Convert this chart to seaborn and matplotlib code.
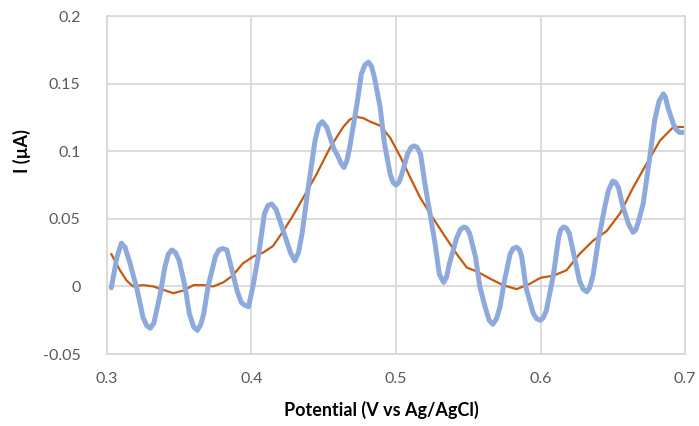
import matplotlib
matplotlib.use("Agg")
import matplotlib.pyplot as plt
import seaborn as sns

# Values (potential in V, current in uA)
blue_x = [0.303, 0.307, 0.310, 0.3125, 0.316, 0.321, 0.325, 0.3275, 0.330,
          0.3325, 0.337, 0.340, 0.3425, 0.345, 0.3475, 0.350, 0.354, 0.357,
          0.360, 0.3625, 0.365, 0.367, 0.370, 0.375, 0.3775, 0.380, 0.383,
          0.386, 0.390, 0.393, 0.3955, 0.398, 0.401, 0.405, 0.409, 0.4115,
          0.414, 0.417, 0.422, 0.427, 0.430, 0.4325, 0.435, 0.439, 0.444,
          0.4465, 0.449, 0.452, 0.457, 0.460, 0.462, 0.464, 0.466, 0.468,
          0.473, 0.476, 0.4785, 0.481, 0.483, 0.485, 0.489, 0.492, 0.496,
          0.498, 0.500, 0.502, 0.504, 0.508, 0.5105, 0.5125, 0.5145, 0.517,
          0.520, 0.5235, 0.527, 0.530, 0.533, 0.535, 0.537, 0.542, 0.5445,
          0.547, 0.549, 0.551, 0.555, 0.558, 0.5616, 0.5645, 0.567, 0.5695,
          0.572, 0.575, 0.579, 0.581, 0.5835, 0.5855, 0.587, 0.590, 0.595,
          0.5975, 0.600, 0.602, 0.604, 0.609, 0.6125, 0.614, 0.616, 0.618,
          0.620, 0.624, 0.627, 0.6295, 0.632, 0.634, 0.6365, 0.640, 0.6445,
          0.647, 0.650, 0.652, 0.654, 0.657, 0.661, 0.664, 0.666, 0.668,
          0.671, 0.675, 0.679, 0.682, 0.685, 0.6865, 0.688, 0.692, 0.694,
          0.696, 0.699]
blue_y = [-0.001, 0.022, 0.032, 0.029, 0.017, -0.003, -0.023, -0.029, -0.031,
          -0.027, -0.005, 0.014, 0.024, 0.027, 0.025, 0.019, 0.000, -0.020,
          -0.030, -0.0325, -0.028, -0.020, 0.000, 0.022, 0.027, 0.028, 0.027,
          0.014, -0.003, -0.012, -0.014, -0.015, 0.000, 0.024, 0.054, 0.060,
          0.061, 0.057, 0.041, 0.025, 0.019, 0.025, 0.039, 0.071, 0.108,
          0.119, 0.122, 0.118, 0.102, 0.096, 0.091, 0.088, 0.093, 0.103,
          0.135, 0.157, 0.164, 0.166, 0.163, 0.155, 0.133, 0.106, 0.083,
          0.077, 0.075, 0.077, 0.083, 0.098, 0.103, 0.104, 0.103, 0.098,
          0.076, 0.054, 0.032, 0.009, 0.003, 0.007, 0.017, 0.036, 0.042,
          0.044, 0.043, 0.039, 0.022, 0.000, -0.015, -0.025, -0.028, -0.024,
          -0.015, 0.004, 0.024, 0.028, 0.029, 0.027, 0.022, -0.001, -0.020,
          -0.024, -0.025, -0.023, -0.018, 0.009, 0.036, 0.042, 0.044, 0.043,
          0.039, 0.019, 0.004, -0.002, -0.004, -0.001, 0.009, 0.034, 0.059,
          0.071, 0.078, 0.077, 0.073, 0.059, 0.046, 0.040, 0.042, 0.049,
          0.061, 0.091, 0.123, 0.137, 0.1425, 0.140, 0.133, 0.120, 0.116,
          0.114, 0.114]

orange_x = [0.303, 0.309, 0.3135, 0.318, 0.325, 0.332, 0.339, 0.346, 0.353,
            0.360, 0.367, 0.3735, 0.3805, 0.387, 0.394, 0.401, 0.408, 0.415,
            0.422, 0.4285, 0.436, 0.445, 0.4545, 0.4635, 0.468, 0.4728,
            0.4775, 0.482, 0.489, 0.496, 0.503, 0.5097, 0.5166, 0.5235,
            0.5327, 0.542, 0.549, 0.556, 0.5665, 0.574, 0.5835, 0.5927,
            0.600, 0.609, 0.618, 0.627, 0.6365, 0.6458, 0.655, 0.664,
            0.6735, 0.6827, 0.692, 0.6988]
orange_y = [0.024, 0.012, 0.0045, 0.000, 0.001, 0.000, -0.0025, -0.005, -0.003,
            0.001, 0.001, 0.000, 0.003, 0.008, 0.017, 0.022, 0.025, 0.030,
            0.041, 0.052, 0.066, 0.083, 0.103, 0.118, 0.1235, 0.1255,
            0.1245, 0.122, 0.119, 0.110, 0.096, 0.081, 0.066, 0.054,
            0.039, 0.024, 0.014, 0.011, 0.005, 0.001, -0.002, 0.002,
            0.0064, 0.008, 0.012, 0.024, 0.034, 0.041, 0.054, 0.073,
            0.091, 0.108, 0.118, 0.118]

x_ticks = [0.3, 0.4, 0.5, 0.6, 0.7]
x_tick_labels = ["0.3", "0.4", "0.5", "0.6", "0.7"]
y_ticks = [-0.05, 0, 0.05, 0.1, 0.15, 0.2]
y_tick_labels = ["-0.05", "0", "0.05", "0.1", "0.15", "0.2"]

sns.set_theme(style="white")
plt.rcParams["font.family"] = ["Lato", "DejaVu Sans"]

fig = plt.figure(figsize=(6.99, 4.26), dpi=100)
ax = fig.add_axes([0.153, 0.169, 0.827, 0.793])

grid_col = "#D9D9D9"
ax.grid(True, color=grid_col, lw=1.3)
ax.set_axisbelow(True)
for s in ax.spines.values():
    s.set_color(grid_col)
    s.set_linewidth(1.3)

sns.lineplot(x=orange_x, y=orange_y, sort=False, estimator=None, ax=ax,
             color="#C55A11", lw=1.6)
sns.lineplot(x=blue_x, y=blue_y, sort=False, estimator=None, ax=ax,
             color="#8EA9DB", lw=3.6)
for ln in ax.lines:
    ln.set_solid_joinstyle("round")
    ln.set_solid_capstyle("round")

ax.set_xlim(0.3, 0.7)
ax.set_ylim(-0.05, 0.2)
ax.set_xticks(x_ticks)
ax.set_xticklabels(x_tick_labels)
ax.set_yticks(y_ticks)
ax.set_yticklabels(y_tick_labels)
ax.tick_params(axis="both", length=0, labelsize=11.5, labelcolor="#595959")
ax.tick_params(axis="x", pad=13)
ax.tick_params(axis="y", pad=19)

ax.set_xlabel("Potential (V vs Ag/AgCl)", fontsize=13, fontweight="bold",
              color="#000000")
ax.set_ylabel("I (µA)", fontsize=13, fontweight="bold", color="#000000")
ax.xaxis.set_label_coords(0.474, -0.138)
ax.yaxis.set_label_coords(-0.132, 0.60)

fig.savefig("out.png", dpi=100)
